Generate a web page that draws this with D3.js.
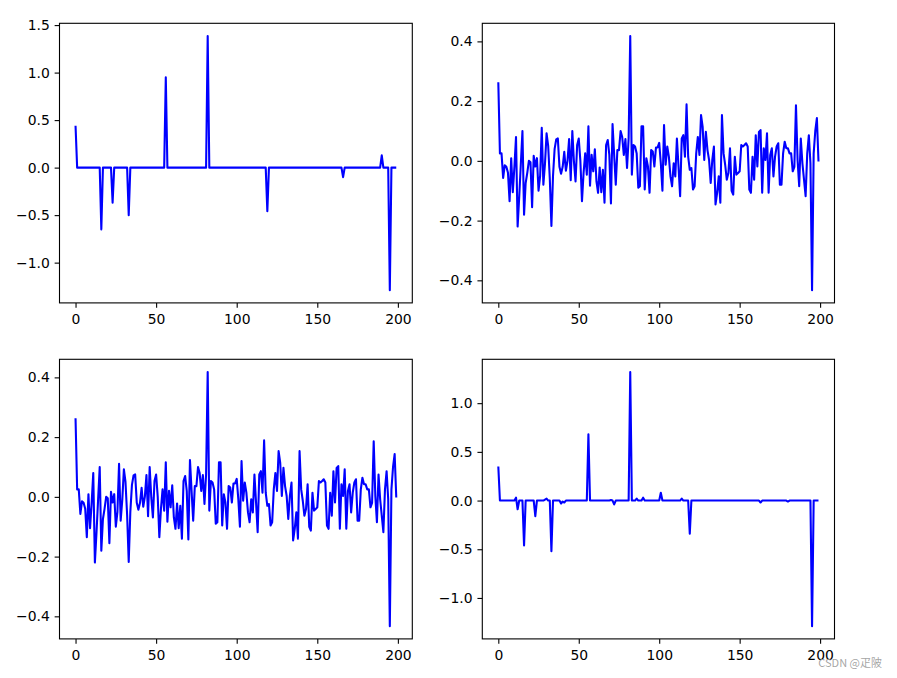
<!DOCTYPE html>
<html>
<head>
<meta charset="utf-8">
<script src="https://cdn.jsdelivr.net/npm/d3@7"></script>
<style>
  html, body { margin: 0; padding: 0; background: #ffffff; }
  svg { display: block; }
</style>
</head>
<body>
<svg id="chart" width="897" height="678"></svg>
<script>
// ---------------- DATA ----------------
const xTicks = [0, 50, 100, 150, 200];

// panel A (top-left)
const seriesA = [
  0.44, 0, 0, 0, 0, 0, 0, 0, 0, 0,   0, 0, 0, 0, 0, 0, -0.65, 0, 0, 0,
  0, 0, 0, -0.37, 0, 0, 0, 0, 0, 0,   0, 0, 0, -0.50, 0, 0, 0, 0, 0, 0,
  0, 0, 0, 0, 0, 0, 0, 0, 0, 0,   0, 0, 0, 0, 0, 0, 0.95, 0, 0, 0,
  0, 0, 0, 0, 0, 0, 0, 0, 0, 0,   0, 0, 0, 0, 0, 0, 0, 0, 0, 0,
  0, 0, 1.385, 0, 0, 0, 0, 0, 0, 0,   0, 0, 0, 0, 0, 0, 0, 0, 0, 0,
  0, 0, 0, 0, 0, 0, 0, 0, 0, 0,   0, 0, 0, 0, 0, 0, 0, 0, 0, -0.46,
  0, 0, 0, 0, 0, 0, 0, 0, 0, 0,   0, 0, 0, 0, 0, 0, 0, 0, 0, 0,
  0, 0, 0, 0, 0, 0, 0, 0, 0, 0,   0, 0, 0, 0, 0, 0, 0, 0, 0, 0,
  0, 0, 0, 0, 0, 0, -0.10, 0, 0, 0,   0, 0, 0, 0, 0, 0, 0, 0, 0, 0,
  0, 0, 0, 0, 0, 0, 0, 0, 0, 0,   0.13, 0, 0, 0, 0, -1.29, 0, 0, 0, 0
];
const yTicksA = [-1.0, -0.5, 0.0, 0.5, 1.0, 1.5];
const yLabelsA = ["\u22121.0", "\u22120.5", "0.0", "0.5", "1.0", "1.5"];

// panel B (top-right) and panel C (bottom-left): same noisy signal
const seriesB = [
  0.263, 0.025, 0.025, -0.057, -0.015, -0.02, -0.04, -0.135, 0.009, -0.105,
  -0.02, 0.08, -0.22, -0.12, -0.01, 0.10, -0.18, -0.074, -0.04, 0.0,
  -0.005, -0.155, 0.017, -0.019, 0.009, -0.10, -0.05, 0.111, -0.08, -0.01,
  0.092, 0.05, -0.06, -0.218, -0.05, 0.04, 0.072, 0.075, -0.02, -0.043,
  -0.02, 0.03, -0.033, 0.0, 0.073, -0.065, 0.10, -0.002, -0.069, 0.053,
  0.075, 0.0, -0.135, -0.04, 0.025, -0.046, 0.116, -0.083, 0.02, -0.035,
  0.039, -0.069, -0.107, -0.022, -0.105, -0.03, -0.14, 0.053, 0.07, 0.02,
  -0.143, 0.123, 0.02, -0.08, 0.036, 0.036, 0.10, 0.08, 0.02, 0.073,
  -0.024, 0.075, 0.418, -0.046, 0.053, 0.048, 0.025, -0.09, -0.085, 0.116,
  0.116, -0.096, 0.009, -0.019, -0.107, 0.036, 0.031, -0.019, 0.045, 0.045,
  0.06, -0.008, -0.10, 0.12, -0.013, 0.048, 0.014, -0.052, -0.085, -0.008,
  -0.052, 0.075, -0.019, -0.118, 0.075, 0.086, 0.014, 0.189, 0.014, -0.03,
  -0.024, -0.096, -0.085, 0.025, 0.08, 0.02, 0.153, 0.114, 0.003, 0.097,
  0.036, 0.003, -0.074, 0.003, 0.048, -0.146, -0.107, -0.052, -0.14, 0.153,
  0.025, -0.013, -0.063, -0.041, 0.042, -0.10, -0.113, 0.014, -0.046, -0.041,
  -0.035, 0.053, 0.048, 0.053, 0.059, 0.048, -0.096, -0.107, 0.014, -0.063,
  0.086, -0.019, 0.097, 0.103, -0.107, 0.042, 0.003, 0.092, -0.107, 0.02,
  0.042, -0.052, 0.014, 0.048, 0.059, -0.08, -0.08, 0.025, 0.064, 0.042,
  0.042, 0.025, 0.025, -0.035, -0.02, 0.186, 0.003, -0.085, 0.075, -0.008,
  -0.063, -0.118, 0.025, 0.086, -0.008, -0.433, 0.025, 0.10, 0.143, -0.002
];
const seriesC = seriesB;
const yTicksB = [-0.4, -0.2, 0.0, 0.2, 0.4];
const yLabelsB = ["\u22120.4", "\u22120.2", "0.0", "0.2", "0.4"];

// panel D (bottom-right)
const seriesD = [
  0.35, 0, 0, 0, 0, 0, 0, 0, 0, 0,   0, 0.03, -0.09, 0, 0, 0, -0.46, 0, 0, 0,
  0, 0, 0, -0.16, 0, 0, 0, 0, 0, 0.01,   0.02, 0, 0, -0.52, 0, 0, 0, 0, 0, -0.03,
  -0.01, -0.02, 0, 0, 0, 0, 0, 0, 0, 0,   0, 0, 0, 0, 0, 0, 0.68, 0, 0, 0,
  0, 0, 0, 0, 0, 0, 0, 0, 0, 0,   0.005, 0, -0.04, 0, 0, 0, 0, 0, 0, 0,
  0, 0, 1.32, 0, 0, 0, 0.02, 0, 0, 0,   0.03, 0, 0, 0, 0, 0, 0, 0, 0, 0,
  0, 0.08, 0, 0, 0, 0, 0, 0, 0, 0,   0, 0, 0, 0, 0.02, 0, 0, 0, 0, -0.34,
  0, 0, 0, 0, 0, 0, 0, 0, 0, 0,   0, 0, 0, 0, 0, 0, 0, 0, 0, 0,
  0, 0, 0, 0, 0, 0, 0, 0, 0, 0,   0, 0, 0, 0, 0, 0, 0, 0, 0, 0,
  0, 0, 0, -0.02, 0, 0, 0, 0, 0, 0,   0, 0, 0, 0, 0, 0, 0, 0, 0, 0,
  -0.01, 0, 0, 0, 0, 0, 0, 0, 0, 0,   0, 0, 0, 0, 0, -1.29, 0, 0, 0, 0
];
const yTicksD = [-1.0, -0.5, 0.0, 0.5, 1.0];
const yLabelsD = ["\u22121.0", "\u22120.5", "0.0", "0.5", "1.0"];

const watermark = "CSDN @\u758b\u9642";

// ---------------- DRAW ----------------
const svg = d3.select("#chart");
const FONT = "'DejaVu Sans', sans-serif";
const FS = 13.9;
const TICK = 4.86;

const panels = [
  { data: seriesA, yt: yTicksA, yl: yLabelsA, x: 59.5, y: 23.3, w: 352.8, h: 279.6 },
  { data: seriesB, yt: yTicksB, yl: yLabelsB, x: 482.3, y: 23.3, w: 352.2, h: 279.6 },
  { data: seriesC, yt: yTicksB, yl: yLabelsB, x: 59.5, y: 359.3, w: 352.8, h: 279.6 },
  { data: seriesD, yt: yTicksD, yl: yLabelsD, x: 482.3, y: 359.3, w: 352.2, h: 279.6 }
];

panels.forEach(p => {
  const n = p.data.length;
  const xMin = 0, xMax = n - 1;
  const xPad = (xMax - xMin) * 0.05;
  const [yMin, yMax] = d3.extent(p.data);
  const yPad = (yMax - yMin) * 0.05;
  const xs = d3.scaleLinear().domain([xMin - xPad, xMax + xPad]).range([0, p.w]);
  const ys = d3.scaleLinear().domain([yMin - yPad, yMax + yPad]).range([p.h, 0]);

  const g = svg.append("g").attr("transform", `translate(${p.x},${p.y})`);

  const line = d3.line().x((d, i) => xs(i)).y(d => ys(d));
  g.append("path")
    .datum(p.data)
    .attr("d", line)
    .attr("fill", "none")
    .attr("stroke", "#0000ff")
    .attr("stroke-width", 2.08)
    .attr("stroke-linejoin", "round")
    .attr("stroke-linecap", "butt");

  // x axis
  const xAxis = d3.axisBottom(xs).tickValues(xTicks).tickSize(TICK).tickPadding(6.6)
    .tickFormat(d3.format("d"));
  const gx = g.append("g").attr("transform", `translate(0,${p.h})`).call(xAxis);
  gx.select(".domain").remove();
  gx.selectAll("line").attr("stroke", "#000").attr("stroke-width", 1.1);
  gx.selectAll("text").attr("font-family", FONT).attr("font-size", FS).attr("fill", "#000");

  // y axis
  const yAxis = d3.axisLeft(ys).tickValues(p.yt).tickSize(TICK).tickPadding(4.86)
    .tickFormat((d, i) => p.yl[i]);
  const gy = g.append("g").call(yAxis);
  gy.select(".domain").remove();
  gy.selectAll("line").attr("stroke", "#000").attr("stroke-width", 1.1);
  gy.selectAll("text").attr("font-family", FONT).attr("font-size", FS).attr("fill", "#000");

  // frame
  g.append("rect")
    .attr("x", 0).attr("y", 0).attr("width", p.w).attr("height", p.h)
    .attr("fill", "none").attr("stroke", "#000").attr("stroke-width", 1.1);
});

svg.append("text")
  .attr("x", 882).attr("y", 667)
  .attr("text-anchor", "end")
  .attr("font-family", "'Noto Sans CJK SC', 'Noto Sans', sans-serif")
  .attr("font-size", 11)
  .attr("fill", "#9a9a9a")
  .attr("fill-opacity", 0.9)
  .text(watermark);
</script>
</body>
</html>
